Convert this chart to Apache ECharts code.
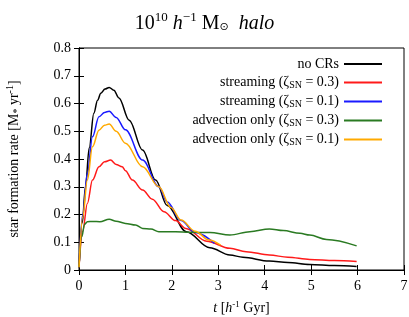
<!DOCTYPE html>
<html>
<head>
<meta charset="utf-8">
<script src="https://cdn.jsdelivr.net/npm/echarts@6/dist/echarts.min.js"></script>
<style>
  html, body { margin: 0; padding: 0; background: #fff; }
  #chart { width: 409px; height: 317px; }
</style>
</head>
<body>
<div id="chart"></div>
<script>
// series names (legend order)
var names = ['no CRs', 'streaming (0.3)', 'streaming (0.1)', 'advection only (0.3)', 'advection only (0.1)'];
var colors = ['#000000', '#ff1a1a', '#1a1aff', '#2a7a22', '#ffaa00'];

// no CRs
var tBlack = [0, 0.07, 0.14, 0.22, 0.32, 0.4, 0.47, 0.56, 0.65, 0.75, 0.86, 1.08, 1.37, 1.65, 1.9, 2.31, 2.82, 3.25, 3.53, 4.1, 4.5, 4.97, 5.5, 5.98];
var vBlack = [0.01, 0.17, 0.3, 0.44, 0.565, 0.612, 0.637, 0.652, 0.658, 0.648, 0.62, 0.54, 0.432, 0.324, 0.232, 0.138, 0.08, 0.054, 0.046, 0.032, 0.027, 0.02, 0.016, 0.013];
// streaming zeta=0.3
var tRed = [0, 0.08, 0.18, 0.29, 0.43, 0.55, 0.68, 0.8, 0.93, 1.0, 1.15, 1.37, 1.58, 1.83, 2.08, 2.3, 2.75, 3.25, 3.6, 4.1, 4.5, 4.97, 5.5, 5.98];
var vRed = [0.01, 0.14, 0.24, 0.324, 0.372, 0.39, 0.396, 0.38, 0.372, 0.358, 0.324, 0.288, 0.255, 0.21, 0.178, 0.15, 0.104, 0.078, 0.066, 0.054, 0.046, 0.038, 0.034, 0.031];
// streaming zeta=0.1
var tBlue = [0, 0.08, 0.18, 0.29, 0.43, 0.55, 0.65, 0.8, 1.0, 1.37, 1.72, 1.9, 2.2, 2.5, 2.92];
var vBlue = [0.01, 0.2, 0.348, 0.48, 0.552, 0.568, 0.572, 0.55, 0.505, 0.396, 0.3, 0.245, 0.178, 0.135, 0.096];
// advection only zeta=0.3
var tGreen = [0, 0.06, 0.12, 0.18, 0.3, 0.45, 0.65, 0.8, 1.0, 1.22, 1.37, 1.55, 1.72, 2.08, 2.39, 2.82, 3.25, 3.68, 4.1, 4.4, 4.76, 4.97, 5.33, 5.98];
var vGreen = [0.01, 0.12, 0.165, 0.174, 0.175, 0.174, 0.183, 0.176, 0.168, 0.162, 0.15, 0.148, 0.138, 0.138, 0.136, 0.135, 0.126, 0.138, 0.148, 0.142, 0.132, 0.126, 0.11, 0.087];
// advection only zeta=0.1
var tOrange = [0, 0.08, 0.18, 0.29, 0.43, 0.55, 0.65, 0.8, 1.0, 1.37, 1.72, 1.98, 2.2, 2.5, 2.8, 3.05];
var vOrange = [0.01, 0.19, 0.324, 0.444, 0.504, 0.522, 0.526, 0.5, 0.457, 0.372, 0.3, 0.225, 0.18, 0.14, 0.108, 0.09];

function pairs(t, v) {
  var out = [];
  for (var i = 0; i < t.length; i++) out.push([t[i], v[i]]);
  return out;
}

var serif = 'Liberation Serif';
var allT = [tBlack, tRed, tBlue, tGreen, tOrange];
var allV = [vBlack, vRed, vBlue, vGreen, vOrange];

var series = [];
for (var i = 0; i < names.length; i++) {
  series.push({
    name: names[i],
    type: 'line',
    data: pairs(allT[i], allV[i]),
    smooth: 0.35,
    smoothMonotone: 'x',
    showSymbol: false,
    lineStyle: { color: colors[i], width: 1.5 },
    itemStyle: { color: colors[i] },
    z: i
  });
}

var chart = echarts.init(document.getElementById('chart'));
var option = {
  animation: false,
  backgroundColor: '#fff',
  title: {
    text: '{a|10}{sup|10}{a| }{i|h}{sup|−1}{a| M}{sub|⊙}{a|  }{i|halo}',
    left: 'center',
    top: 6,
    textStyle: {
      fontWeight: 'normal',
      rich: {
        a: { fontFamily: serif, fontSize: 20, fontWeight: 'normal', color: '#000', lineHeight: 26 },
        i: { fontFamily: serif, fontSize: 20, fontWeight: 'normal', fontStyle: 'italic', color: '#000', lineHeight: 26 },
        sup: { fontFamily: serif, fontSize: 13, fontWeight: 'normal', color: '#000', verticalAlign: 'top', lineHeight: 26, padding: [0, 0, 8, 0] },
        sub: { fontFamily: 'DejaVu Sans', fontSize: 11, fontWeight: 'normal', color: '#000', lineHeight: 26, padding: [6, 0, 0, 0] }
      }
    }
  },
  grid: { left: 79, right: 5, top: 48, bottom: 47, outerBoundsMode: 'none', show: true, borderColor: '#000', borderWidth: 1 },
  legend: {
    orient: 'vertical',
    right: 22,
    top: 52,
    align: 'right',
    itemGap: 4,
    itemWidth: 38,
    itemHeight: 2,
    icon: 'rect',
    data: names,
    formatter: function (name) {
      var m = name.match(/^(.*) \((.*)\)$/);
      if (!m) return '{a|' + name + '}';
      return '{a|' + m[1] + ' (ζ}{s|SN}{a| = ' + m[2] + ')}';
    },
    textStyle: {
      rich: {
        a: { fontFamily: serif, fontSize: 14, color: '#000', lineHeight: 15 },
        s: { fontFamily: serif, fontSize: 10, color: '#000', lineHeight: 15, padding: [5, 0, 0, 0] }
      }
    }
  },
  xAxis: [{
    type: 'value',
    min: 0, max: 7, interval: 1,
    name: '{i|t}{a| [}{i|h}{sup|-1}{a| Gyr]}',
    nameLocation: 'middle',
    nameGap: 30,
    nameTextStyle: {
      rich: {
        a: { fontFamily: serif, fontSize: 14, color: '#000' },
        i: { fontFamily: serif, fontSize: 14, fontStyle: 'italic', color: '#000' },
        sup: { fontFamily: serif, fontSize: 9, color: '#000', padding: [0, 0, 8, 0] }
      }
    },
    axisLine: { show: true, lineStyle: { color: '#000', width: 1 } },
    axisTick: { inside: true, length: 5, lineStyle: { color: '#000' } },
    axisLabel: { fontFamily: serif, fontSize: 14, color: '#000', margin: 9 },
    splitLine: { show: false }
  }, {
    type: 'value',
    position: 'top',
    min: 0, max: 7, interval: 1,
    axisLine: { show: true, lineStyle: { color: '#000' } },
    axisTick: { inside: true, length: 5, lineStyle: { color: '#000' } },
    axisLabel: { show: false },
    splitLine: { show: false }
  }],
  yAxis: [{
    type: 'value',
    min: 0, max: 0.8, interval: 0.1,
    name: '{a|star formation rate [M}{sub|*}{a| yr}{sup|-1}{a|]}',
    nameLocation: 'middle',
    nameRotate: 90,
    nameGap: 56,
    nameTextStyle: {
      rich: {
        a: { fontFamily: serif, fontSize: 14, color: '#000' },
        sub: { fontFamily: serif, fontSize: 10, color: '#000', padding: [6, 0, 0, 0] },
        sup: { fontFamily: serif, fontSize: 10, color: '#000', padding: [0, 0, 8, 0] }
      }
    },
    axisLine: { show: true, lineStyle: { color: '#000', width: 1 } },
    axisTick: { inside: true, length: 5, lineStyle: { color: '#000' } },
    axisLabel: {
      fontFamily: serif, fontSize: 14, color: '#000', margin: 8,
      formatter: function (v) { return v === 0 ? '0' : v.toFixed(1); }
    },
    splitLine: { show: false }
  }, {
    type: 'value',
    position: 'right',
    min: 0, max: 0.8, interval: 0.1,
    axisLine: { show: true, lineStyle: { color: '#000' } },
    axisTick: { inside: true, length: 5, lineStyle: { color: '#000' } },
    axisLabel: { show: false },
    splitLine: { show: false }
  }],
  series: series
};
chart.setOption(option);
</script>
</body>
</html>
